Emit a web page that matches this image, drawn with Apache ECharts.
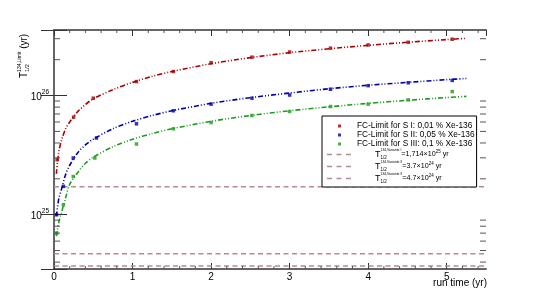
<!DOCTYPE html>
<html><head><meta charset="utf-8">
<script src="https://cdn.jsdelivr.net/npm/echarts@6/dist/echarts.min.js"></script>
<style>html,body{margin:0;padding:0;background:#fff}#c{width:540px;height:300px}</style>
</head><body><div id="c"></div>
<script>
// ---- data ----
const runTimeRed   = [0.04, 0.25, 0.5, 1.05, 1.52, 2.0, 2.52, 3.0, 3.52, 4.0, 4.51, 5.07];
const limitRed     = [2.89e25, 6.59e25, 9.5e25, 1.31e26, 1.59e26, 1.89e26, 2.10e26, 2.32e26, 2.50e26, 2.66e26, 2.80e26, 2.97e26];
const runTimeBlue  = [0.034, 0.12, 0.245, 0.54, 1.05, 1.52, 2.0, 2.52, 3.0, 3.52, 4.0, 4.51, 5.07];
const limitBlue    = [1.0e25, 1.73e25, 2.99e25, 4.4e25, 5.79e25, 7.45e25, 8.47e25, 9.5e25, 1.01e26, 1.13e26, 1.21e26, 1.28e26, 1.34e26];
const runTimeGreen = [0.034, 0.12, 0.245, 0.52, 1.05, 1.52, 2.0, 2.52, 3.0, 3.52, 4.0, 4.51, 5.07];
const limitGreen   = [7.0e24, 1.21e25, 2.09e25, 2.99e25, 3.92e25, 5.26e25, 5.94e25, 6.8e25, 7.35e25, 8.09e25, 8.47e25, 9.2e25, 1.08e26];

const fitTime  = [0.03, 0.06, 0.1, 0.15, 0.2, 0.3, 0.4, 0.5, 0.75, 1, 1.25, 1.5, 2, 2.5, 3, 3.5, 4, 4.5, 5, 5.25];
const fitRed   = [2.2e25, 3.35e25, 4.3e25, 5.3e25, 6.0e25, 7.3e25, 8.4e25, 9.4e25, 1.12e26, 1.29e26, 1.45e26, 1.59e26, 1.85e26, 2.08e26, 2.29e26, 2.47e26, 2.64e26, 2.80e26, 2.95e26, 3.02e26];
const fitBlue  = [0.97e25, 1.35e25, 1.68e25, 2.2e25, 2.6e25, 3.3e25, 3.85e25, 4.3e25, 5.27e25, 6.08e25, 6.8e25, 7.45e25, 8.6e25, 9.6e25, 1.05e26, 1.14e26, 1.22e26, 1.29e26, 1.36e26, 1.39e26];
const fitGreen = [6.6e24, 8.6e24, 1.07e25, 1.4e25, 1.8e25, 2.25e25, 2.7e25, 3.04e25, 3.72e25, 4.3e25, 4.8e25, 5.26e25, 6.08e25, 6.8e25, 7.45e25, 8.04e25, 8.6e25, 9.12e25, 9.62e25, 9.85e25];

const limitLines = [1.714e25, 3.7e24, 4.7e24];
const seriesNames = ['FC-Limit for S I: 0,01 % Xe-136', 'FC-Limit for S II: 0,05 % Xe-136', 'FC-Limit for S III: 0,1 % Xe-136'];
const lineNames = ['T1', 'T2', 'T3'];
const lineLabels = [
  '{T|T}{sub|1/2}{sup|134,Variante I}{n|=1,714×10}{e|25}{n| yr}',
  '{T|T}{sub|1/2}{sup|134,Variante II}{n|=3.7×10}{e|24}{n| yr}',
  '{T|T}{sub|1/2}{sup|134,Variante II}{n|=4.7×10}{e|24}{n| yr}'
];
const xMin = 0, xMax = 5.5, yMin = 3.5e24, yMax = 3.55e26;
const xTicksMinor = [0.2,0.4,0.6,0.8,1.2,1.4,1.6,1.8,2.2,2.4,2.6,2.8,3.2,3.4,3.6,3.8,4.2,4.4,4.6,4.8,5.2,5.4];
const yTicksMinor = [4e24,5e24,6e24,7e24,8e24,9e24,2e25,3e25,4e25,5e25,6e25,7e25,8e25,9e25,2e26,3e26];

const FONT = 'Liberation Sans, Arial, Helvetica, sans-serif';
const cRed = '#a80000', cBlue = '#0000a8', cGreen = '#1c9c1c', cLim = '#b48c96', cFrame = '#666';
const dotDash = [5, 2, 1, 2, 1, 2];
const sqIcon = 'path://M0,0M25,0M25,8M0,8M11,2.5h3v3h-3z';
const dashIcon = 'path://M0,0M25,0M25,8M0,8M0,3.3h5v1.4h-5zM9.5,3.3h5v1.4h-5zM19,3.3h5v1.4h-5z';

const zip = (a, b) => a.map((v, i) => [v, b[i]]);

const chart = echarts.init(document.getElementById('c'), null, {renderer: 'canvas'});

function tickAxis(pos, isX, type) {
  const base = {
    type: type, position: pos, min: isX ? xMin : yMin, max: isX ? xMax : yMax,
    axisLine: {show: true, lineStyle: {color: cFrame, width: 2}},
    axisTick: {show: true, inside: true, length: isX ? 6 : 13, lineStyle: {color: '#333', width: 1}},
    splitLine: {show: false}
  };
  if (isX) base.interval = 1;
  if (type === 'log') base.logBase = 10;
  return base;
}

const xBottom = tickAxis('bottom', true, 'value');
xBottom.axisLabel = {show: true, fontSize: 10, fontFamily: FONT, color: '#000', margin: 3, showMaxLabel: false,
  formatter: v => (Math.abs(v - Math.round(v)) < 1e-9 ? String(Math.round(v)) : '')};
const xTop = tickAxis('top', true, 'value');
xTop.axisLabel = {show: false};

const yLeft = tickAxis('left', false, 'log');
yLeft.axisLabel = {show: true, margin: 5, color: '#000',
  formatter: v => { const e = Math.log10(v), r = Math.round(e); return Math.abs(e - r) < 1e-6 ? '{b|10}{s|' + r + '}' : ''; },
  rich: {b: {fontSize: 10, fontFamily: FONT, color: '#000', lineHeight: 13, verticalAlign: 'bottom'},
         s: {fontSize: 6.5, fontFamily: FONT, color: '#000', verticalAlign: 'top'}}};
const yRight = tickAxis('right', false, 'log');
yRight.axisLabel = {show: false};

function minorX(params, api) {
  const cs = params.coordSys;
  const p = api.coord([api.value(0), yMin]);
  const st = {stroke: '#555', lineWidth: 1};
  return {type: 'group', children: [
    {type: 'line', shape: {x1: p[0], y1: cs.y + cs.height, x2: p[0], y2: cs.y + cs.height - 3}, style: st},
    {type: 'line', shape: {x1: p[0], y1: cs.y, x2: p[0], y2: cs.y + 3}, style: st}
  ]};
}
function minorY(params, api) {
  const cs = params.coordSys;
  const p = api.coord([xMin, api.value(1)]);
  const st = {stroke: '#555', lineWidth: 1};
  return {type: 'group', children: [
    {type: 'line', shape: {x1: cs.x, y1: p[1], x2: cs.x + 6, y2: p[1]}, style: st},
    {type: 'line', shape: {x1: cs.x + cs.width, y1: p[1], x2: cs.x + cs.width - 6, y2: p[1]}, style: st}
  ]};
}

const scatterCols = [cRed, cBlue, cGreen];
const scatterData = [zip(runTimeRed, limitRed), zip(runTimeBlue, limitBlue), zip(runTimeGreen, limitGreen)];
const fitData = [zip(fitTime, fitRed), zip(fitTime, fitBlue), zip(fitTime, fitGreen)];

const series = [];
fitData.forEach((d, i) => series.push({
  name: 'fit' + i, type: 'line', data: d, smooth: 0.3, symbol: 'none', z: 3, silent: true,
  lineStyle: {color: scatterCols[i], width: 1.6, type: dotDash}
}));
limitLines.forEach((v, i) => series.push({
  name: lineNames[i], type: 'line', data: [[xMin, v], [xMax, v]], symbol: 'none', showSymbol: false, z: 2, silent: true,
  itemStyle: {color: cLim}, lineStyle: {color: cLim, width: 1.5, type: [5, 3.5]}
}));
scatterData.forEach((d, i) => series.push({
  name: seriesNames[i], type: 'scatter', data: d, symbol: 'rect', symbolSize: 3.5, z: 4, silent: true,
  itemStyle: {color: scatterCols[i]}
}));
series.push({type: 'custom', name: 'xminor', silent: true, renderItem: minorX, xAxisIndex: 0, yAxisIndex: 0,
  data: xTicksMinor.map(v => [v, yMin]), z: 6});
series.push({type: 'custom', name: 'yminor', silent: true, renderItem: minorY, xAxisIndex: 0, yAxisIndex: 0,
  data: yTicksMinor.map(v => [xMin, v]), z: 6});

const legendData = seriesNames.map(n => ({name: n, icon: sqIcon}))
  .concat(lineNames.map(n => ({name: n, icon: dashIcon, itemStyle: {color: cLim, borderWidth: 0}})));

const option = {
  animation: false,
  backgroundColor: '#fff',
  grid: {left: 54, right: 54, top: 30, bottom: 31, containLabel: false},
  xAxis: [xBottom, xTop],
  yAxis: [yLeft, yRight],
  legend: {
    data: legendData, orient: 'vertical', left: 322, top: 116,
    backgroundColor: '#fff', borderColor: '#000', borderWidth: 1, borderRadius: 0,
    padding: [6, 2, 3, 5], itemGap: 1, itemWidth: 25, itemHeight: 8, selectedMode: false,
    formatter: name => { const k = lineNames.indexOf(name); return k >= 0 ? lineLabels[k] : name; },
    textStyle: {fontSize: 8.3, fontFamily: FONT, color: '#000', lineHeight: 8,
      rich: {
        T: {fontSize: 9, fontFamily: FONT, color: '#000', lineHeight: 11, padding: [0, 0, 0, 18], align: 'left'},
        sub: {fontSize: 4.5, fontFamily: FONT, color: '#000', width: 0, verticalAlign: 'bottom', align: 'left'},
        sup: {fontSize: 3.4, fontFamily: FONT, color: '#000', verticalAlign: 'top', align: 'left'},
        n: {fontSize: 7.2, fontFamily: FONT, color: '#000', align: 'left'},
        e: {fontSize: 4.5, fontFamily: FONT, color: '#000', verticalAlign: 'top', align: 'left'}
      }}
  },
  graphic: [{
    type: 'text', x: 24, y: 78, rotation: Math.PI / 2, silent: true,
    style: {text: '{t|T}{sub|1/2}{sup|134,Limit}{t| (yr)}', align: 'left', verticalAlign: 'middle',
      rich: {
        t: {fontSize: 10, fontFamily: FONT, fill: '#000', lineHeight: 13, align: 'left'},
        sub: {fontSize: 5.5, fontFamily: FONT, fill: '#000', width: 0, verticalAlign: 'bottom', align: 'left'},
        sup: {fontSize: 5, fontFamily: FONT, fill: '#000', verticalAlign: 'top', align: 'left'}
      }}
  }, {
    type: 'text', right: 53, top: 278, silent: true,
    style: {text: 'run time (yr)', fontSize: 10, fontFamily: FONT, fill: '#000'}
  }],
  series: series
};
chart.setOption(option);
</script>
</body></html>
